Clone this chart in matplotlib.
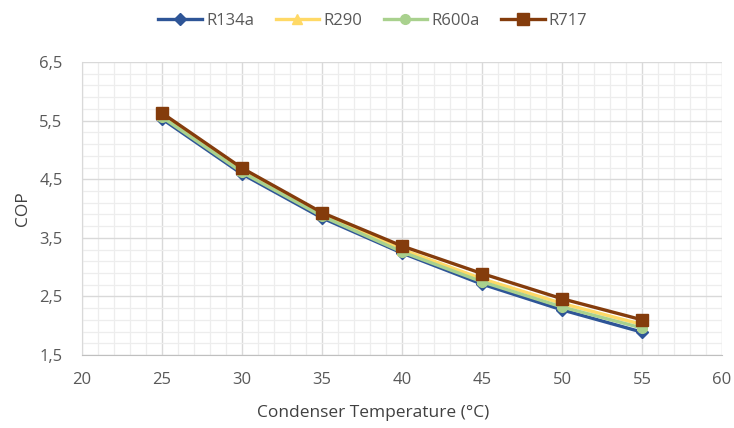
import matplotlib
matplotlib.use("Agg")
import matplotlib.pyplot as plt
import numpy as np
from matplotlib.ticker import FixedLocator, MultipleLocator, FuncFormatter

plt.rcParams['font.family'] = ['Open Sans', 'DejaVu Sans']

temps = [25, 30, 35, 40, 45, 50, 55]
cop_r134a = [5.53, 4.59, 3.84, 3.24, 2.71, 2.27, 1.89]
cop_r290 = [5.59, 4.65, 3.90, 3.30, 2.80, 2.38, 2.02]
cop_r600a = [5.56, 4.62, 3.87, 3.26, 2.75, 2.32, 1.96]
cop_r717 = [5.63, 4.69, 3.93, 3.36, 2.89, 2.46, 2.10]

series = [
    ("R134a", cop_r134a, "#2E5597", "D", 6),
    ("R290", cop_r290, "#FFD966", "^", 7),
    ("R600a", cop_r600a, "#A9D18E", "o", 7),
    ("R717", cop_r717, "#843C0C", "s", 8),
]

fig = plt.figure(figsize=(7.34, 4.28), dpi=100)
ax = fig.add_axes([0.1117, 0.1706, 0.872, 0.6844])

for name, vals, color, marker, ms in series:
    ax.plot(temps, vals, color=color, lw=2.4, marker=marker, markersize=ms,
            markeredgecolor=color, markerfacecolor=color, label=name, zorder=3)

ax.set_xlim(20, 60)
ax.set_ylim(1.5, 6.5)
ax.xaxis.set_major_locator(MultipleLocator(5))
ax.xaxis.set_minor_locator(MultipleLocator(1))
ax.yaxis.set_major_locator(FixedLocator(np.arange(1.5, 6.51, 1.0)))
ax.yaxis.set_minor_locator(FixedLocator(np.arange(1.5, 6.51, 0.2)))
ax.yaxis.set_major_formatter(FuncFormatter(lambda v, p: f"{v:.1f}".replace(".", ",")))

ax.grid(which="major", color="#D9D9D9", lw=1.0, zorder=0)
ax.grid(which="minor", color="#EDEDED", lw=0.9, zorder=0)
ax.set_axisbelow(True)
ax.tick_params(which="both", length=0, labelsize=12, colors="#595959")
ax.tick_params(axis="y", pad=14)
ax.tick_params(axis="x", pad=12)
for s in ax.spines.values():
    s.set_visible(False)
ax.spines["bottom"].set_visible(True)
ax.spines["bottom"].set_color("#BFBFBF")
ax.spines["left"].set_visible(True)
ax.spines["left"].set_color("#D9D9D9")

ax.set_xlabel("Condenser Temperature (°C)", fontsize=12.5, color="#404040", labelpad=12)
ax.xaxis.set_label_coords(0.455, -0.172)
ax.set_ylabel("COP", fontsize=12.5, color="#404040", labelpad=6)

fig.legend(loc="upper center", bbox_to_anchor=(0.508, 1.005), ncol=4, frameon=False,
           fontsize=12, labelcolor="#595959", handlelength=2.6, columnspacing=1.3,
           handletextpad=0.25)

fig.savefig("out.png", dpi=100)
